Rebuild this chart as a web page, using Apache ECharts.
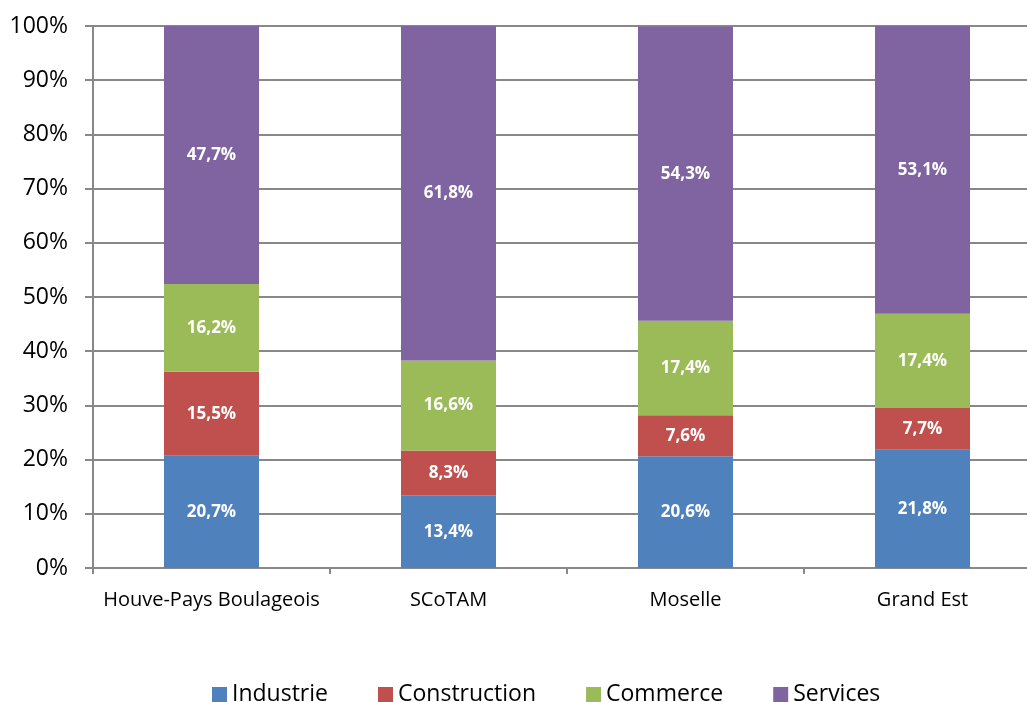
<!DOCTYPE html>
<html>
<head>
<meta charset="utf-8">
<script src="https://cdn.jsdelivr.net/npm/echarts@6/dist/echarts.min.js"></script>
<style>
  html, body { margin: 0; padding: 0; background: #fff; }
  #chart { width: 1027px; height: 702px; }
</style>
</head>
<body>
<div id="chart"></div>
<script>
const categories = ['Houve-Pays Boulageois', 'SCoTAM', 'Moselle', 'Grand Est'];
const industrie = [20.7, 13.4, 20.6, 21.8];
const construction = [15.5, 8.3, 7.6, 7.7];
const commerce = [16.2, 16.6, 17.4, 17.4];
const services = [47.7, 61.8, 54.3, 53.1];
const yTicks = [0, 10, 20, 30, 40, 50, 60, 70, 80, 90, 100];

const font = '"Open Sans", "Liberation Sans", sans-serif';

function serie(name, data, color) {
  return {
    name: name,
    type: 'bar',
    stack: 'total',
    barWidth: 95,
    data: data,
    itemStyle: { color: color },
    label: {
      show: true,
      position: 'inside',
      color: '#fff',
      fontWeight: 'bold',
      fontSize: 17,
      fontFamily: font,
      formatter: p => p.value.toFixed(1).replace('.', ',') + '%'
    }
  };
}

let chart = echarts.init(document.getElementById('chart'));
let option = {
  animation: false,
  textStyle: { fontFamily: font },
  // plot runs past the right edge of the picture, as in the original
  grid: { left: 93, width: 948, top: 26, height: 542, outerBoundsMode: 'none' },
  legend: {
    top: 678,
    left: 207,
    itemWidth: 15,
    itemHeight: 15,
    itemGap: 50,
    icon: 'rect',
    textStyle: { fontSize: 23, color: '#000', fontFamily: font },
    data: ['Industrie', 'Construction', 'Commerce', 'Services']
  },
  xAxis: {
    type: 'category',
    data: categories,
    axisLine: { lineStyle: { color: '#888', width: 2 } },
    axisTick: { show: true, length: 6, lineStyle: { color: '#888', width: 2 } },
    axisLabel: { color: '#000', fontSize: 20, margin: 22, interval: 0, fontFamily: font }
  },
  yAxis: {
    type: 'value',
    min: yTicks[0],
    max: yTicks[yTicks.length - 1],
    interval: 10,
    axisLine: { show: true, lineStyle: { color: '#888', width: 2 } },
    axisTick: { show: true, length: 8, lineStyle: { color: '#888', width: 2 } },
    splitLine: { lineStyle: { color: '#888', width: 2 } },
    axisLabel: { color: '#000', fontSize: 23, margin: 25, fontFamily: font, formatter: '{value}%' }
  },
  series: [
    serie('Industrie', industrie, '#4F81BD'),
    serie('Construction', construction, '#C0504D'),
    serie('Commerce', commerce, '#9BBB59'),
    serie('Services', services, '#8064A2')
  ]
};
chart.setOption(option);
</script>
</body>
</html>
